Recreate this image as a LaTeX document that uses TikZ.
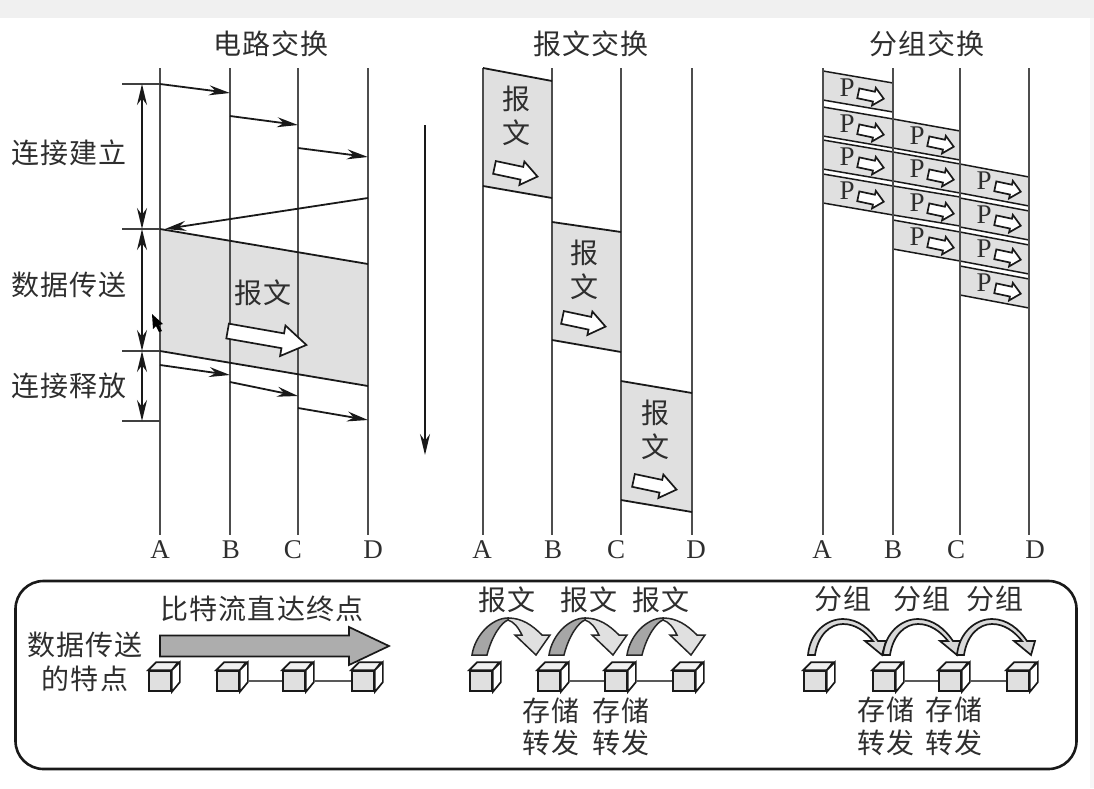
\documentclass[tikz,border=0pt]{standalone}
\usepackage{fontspec}
\setmainfont{Liberation Serif}
\newfontfamily\cjk[LetterSpace=4]{Noto Sans CJK SC}
\usetikzlibrary{positioning, arrows.meta}
\definecolor{ink}{HTML}{2E2E2E}
\definecolor{pale}{HTML}{E0E0E0}
\tikzstyle{every node}=[text=ink]
\tikzstyle{hanzi}=[font=\cjk\fontsize{28}{33}\selectfont,inner sep=0pt]
\tikzstyle{letter}=[font=\fontsize{27}{32}\selectfont,inner sep=0pt]
\tikzstyle{lifeline}=[draw=ink!85,line width=1.6pt]
\tikzstyle{signal}=[draw=black!90,line width=1.8pt]
\tikzstyle{span}=[draw=black!90,line width=1.8pt,<->]
\tikzstyle{tick}=[draw=black!75,line width=1.5pt]
\tikzstyle{sheet}=[fill=pale]
\tikzstyle{hollow}=[draw=black!90,fill=white,line width=1.7pt,line join=miter]
\tikzstyle{face}=[draw=black!90,fill=pale,line width=1.7pt,minimum width=22pt,minimum height=20pt,inner sep=0pt]
\tikzstyle{link}=[draw=black!65,line width=1.5pt]
\newcommand{\cube}[3]{
            \node[face] (#1) at (#2+11,#3) {};
            \draw[draw=black!90,fill=black!6,line width=1.7pt] (#1.north west) -- ++(8,-8) -- ++(22,0) -- (#1.north east) -- cycle;
            \draw[draw=black!90,fill=white,line width=1.7pt] (#1.north east) -- ++(8,-8) -- ++(0,20) -- (#1.south east) -- cycle;
}
\newcommand{\blockarrow}[7]{
            \begin{scope}[shift={(#1,#2)},rotate=#3]
            \draw[hollow] (-#4/2,-#6/2) -- (#4/2-#7,-#6/2) -- (#4/2-#7,-#5/2) -- (#4/2,0) -- (#4/2-#7,#5/2) -- (#4/2-#7,#6/2) -- (-#4/2,#6/2) -- cycle;
            \end{scope}
}
\newcommand{\packet}[4]{
            \fill[sheet] (#1,#3) -- (#2,#4) -- (#2,#4+29) -- (#1,#3+29) -- cycle;
            \draw[signal,line width=1.5pt] (#1,#3) -- (#2,#4);
            \draw[signal,line width=1.5pt] (#1,#3+29) -- (#2,#4+29);
            \node[letter] at (#1+24,#3+17) {P};
            \blockarrow{#1+48}{#3+25}{-12}{26}{18}{10}{10}
}
\newcommand{\hop}[1]{
            \draw[draw=black!85,fill=black!12,line width=1.5pt] (#1+36,618) .. controls (#1+50,618) and (#1+60,625) .. (#1+70,635) -- (#1+78,635) -- (#1+64,655) -- (#1+43,635) -- (#1+50,635) .. controls (#1+46,627) and (#1+42,622) .. (#1+36,620) -- cycle;
            \draw[draw=black!85,fill=black!35,line width=1.5pt] (#1,655) .. controls (#1+3,635) and (#1+20,618) .. (#1+36,618) -- (#1+36,620) .. controls (#1+30,622) and (#1+20,635) .. (#1+15,655) -- cycle;
}
\newcommand{\jump}[1]{
            \draw[draw=black!90,fill=black!15,line width=1.7pt] (#1,655) .. controls (#1+2,633) and (#1+18,619) .. (#1+35,619) .. controls (#1+50,619) and (#1+62,629) .. (#1+70,641) -- (#1+78,641) -- (#1+74,655) -- (#1+57,641) -- (#1+65,641) .. controls (#1+57,631) and (#1+47,624) .. (#1+35,624) .. controls (#1+22,624) and (#1+10,635) .. (#1+7,655) -- cycle;
}

\begin{document}
\begin{tikzpicture}[x=1pt,y=-1pt,>={Stealth[length=21pt,width=10pt]}]
            \useasboundingbox (0,0) rectangle (1094,788);
            \fill[black!6] (0,0) rectangle (1094,18);
            \fill[black!3] (1090,18) rectangle (1094,788);

            \node[hanzi] (circuit) at (271,44) {电路交换};
            \node[hanzi] (message) at (591,44) {报文交换};
            \node[hanzi] (packet) at (927,44) {分组交换};

            \fill[sheet] (160,229) -- (368,264) -- (368,386) -- (160,351) -- cycle;
            \fill[sheet] (483,68) -- (552,81) -- (552,198) -- (483,186) -- cycle;
            \fill[sheet] (552,222) -- (621,232) -- (621,352) -- (552,340) -- cycle;
            \fill[sheet] (621,381) -- (692,393) -- (692,512) -- (621,500) -- cycle;
            \packet{823}{893}{71}{83}
            \packet{823}{893}{107}{119}
            \packet{823}{893}{140}{152}
            \packet{823}{893}{174}{186}
            \packet{893}{960}{119}{131}
            \packet{893}{960}{152}{164}
            \packet{893}{960}{186}{197}
            \packet{893}{960}{220}{232}
            \packet{960}{1029}{164}{177}
            \packet{960}{1029}{198}{211}
            \packet{960}{1029}{232}{245}
            \packet{960}{1029}{266}{279}

            \coordinate (Atop) at (160,68);
            \coordinate (Btop) at (230,68);
            \coordinate (Ctop) at (298,68);
            \coordinate (Dtop) at (368,68);
            \coordinate (Abot) at (160,535);
            \coordinate (Bbot) at (230,535);
            \coordinate (Cbot) at (298,535);
            \coordinate (Dbot) at (368,535);
            \draw[lifeline] (Atop) -- (Abot);
            \draw[lifeline] (Btop) -- (Bbot);
            \draw[lifeline] (Ctop) -- (Cbot);
            \draw[lifeline] (Dtop) -- (Dbot);
            \node[letter] (A1) at (160,550) {A};
            \node[letter] (B1) at (231,550) {B};
            \node[letter] (C1) at (293,550) {C};
            \node[letter] (D1) at (373,550) {D};

            \coordinate (Ptop) at (483,68);
            \coordinate (Qtop) at (552,68);
            \coordinate (Rtop) at (621,68);
            \coordinate (Stop) at (692,68);
            \coordinate (Pbot) at (483,535);
            \coordinate (Qbot) at (552,535);
            \coordinate (Rbot) at (621,535);
            \coordinate (Sbot) at (692,535);
            \draw[lifeline] (Ptop) -- (Pbot);
            \draw[lifeline] (Qtop) -- (Qbot);
            \draw[lifeline] (Rtop) -- (Rbot);
            \draw[lifeline] (Stop) -- (Sbot);
            \node[letter] (A2) at (482,550) {A};
            \node[letter] (B2) at (553,550) {B};
            \node[letter] (C2) at (616,550) {C};
            \node[letter] (D2) at (696,550) {D};

            \coordinate (Utop) at (823,68);
            \coordinate (Vtop) at (893,68);
            \coordinate (Wtop) at (960,68);
            \coordinate (Xtop) at (1029,68);
            \coordinate (Ubot) at (823,535);
            \coordinate (Vbot) at (893,535);
            \coordinate (Wbot) at (960,535);
            \coordinate (Xbot) at (1029,535);
            \draw[lifeline] (Utop) -- (Ubot);
            \draw[lifeline] (Vtop) -- (Vbot);
            \draw[lifeline] (Wtop) -- (Wbot);
            \draw[lifeline] (Xtop) -- (Xbot);
            \node[letter] (A3) at (822,550) {A};
            \node[letter] (B3) at (893,550) {B};
            \node[letter] (C3) at (956,550) {C};
            \node[letter] (D3) at (1035,550) {D};

            \coordinate (t1) at (122,84);
            \coordinate (t2) at (122,229);
            \coordinate (t3) at (122,351);
            \coordinate (t4) at (122,421);
            \coordinate (a1) at (160,84);
            \coordinate (a2) at (160,229);
            \coordinate (a3) at (160,351);
            \coordinate (a4) at (160,421);
            \draw[tick] (t1) -- (a1);
            \draw[tick] (t2) -- (a2);
            \draw[tick] (t3) -- (a3);
            \draw[tick] (t4) -- (a4);
            \coordinate (s1) at (142,84);
            \coordinate (s2) at (142,229);
            \coordinate (s3) at (142,351);
            \coordinate (s4) at (142,421);
            \draw[span] (s1) -- (s2);
            \draw[span] (s2) -- (s3);
            \draw[span] (s3) -- (s4);
            \node[hanzi] (setup) at (69,153) {连接建立};
            \node[hanzi] (transfer) at (69,285) {数据传送};
            \node[hanzi] (release) at (69,386) {连接释放};

            \coordinate (b1) at (230,93);
            \coordinate (b2) at (230,116);
            \coordinate (c1) at (298,125);
            \coordinate (c2) at (298,148);
            \coordinate (d1) at (368,157);
            \coordinate (d2) at (368,198);
            \coordinate (a0) at (165,229);
            \draw[signal,->] (a1) -- (b1);
            \draw[signal,->] (b2) -- (c1);
            \draw[signal,->] (c2) -- (d1);
            \draw[signal,->] (d2) -- (a0);
            \coordinate (e0) at (368,264);
            \coordinate (f0) at (368,386);
            \draw[signal] (a2) -- (e0);
            \draw[signal] (a3) -- (f0);
            \coordinate (a5) at (160,365);
            \coordinate (b5) at (230,375);
            \coordinate (b6) at (230,382);
            \coordinate (c6) at (298,396);
            \coordinate (c7) at (298,408);
            \coordinate (d7) at (368,420);
            \draw[signal,->] (a5) -- (b5);
            \draw[signal,->] (b6) -- (c6);
            \draw[signal,->] (c7) -- (d7);

            \node[hanzi] (msg) at (263,293) {报文};
            \blockarrow{267}{338}{-10}{80}{31}{15}{24}
            \fill[black] (152,314) -- (153,329) -- (156,326) -- (159,332) -- (162,331) -- (159,325) -- (163,324) -- cycle;

            \coordinate (timeup) at (425,125);
            \coordinate (timedown) at (425,455);
            \draw[signal,line width=2pt,->] (timeup) -- (timedown);

            \draw[signal] (483,68) -- (552,81);
            \draw[signal] (483,186) -- (552,198);
            \draw[signal] (552,222) -- (621,232);
            \draw[signal] (552,340) -- (621,352);
            \draw[signal] (621,381) -- (692,393);
            \draw[signal] (621,500) -- (692,512);
            \node[hanzi] (bao1) at (516,99) {报};
            \node[hanzi] (wen1) at (516,133) {文};
            \node[hanzi] (bao2) at (584,253) {报};
            \node[hanzi] (wen2) at (584,287) {文};
            \node[hanzi] (bao3) at (655,413) {报};
            \node[hanzi] (wen3) at (655,447) {文};
            \blockarrow{516}{172}{-12}{44}{24}{13}{16}
            \blockarrow{584}{322}{-12}{44}{24}{13}{16}
            \blockarrow{655}{485}{-12}{44}{24}{13}{16}

            \node[draw=black!90,line width=2.6pt,rounded corners=28pt,minimum width=1061pt,minimum height=188pt,inner sep=0pt] (frame) at (546,675) {};
            \node[hanzi] (feature1) at (85,645) {数据传送};
            \node[hanzi] (feature2) at (85,679) {的特点};
            \node[hanzi] (direct) at (262,609) {比特流直达终点};
            \begin{scope}[hollow/.append style={fill=black!32}]
            \blockarrow{274.5}{646}{0}{229}{38}{21}{40}
            \end{scope}

            \cube{n1}{149}{681}
            \cube{n2}{217}{681}
            \cube{n3}{283}{681}
            \cube{n4}{352}{681}
            \draw[link] ([xshift=8pt]n2.east) -- (n3);
            \draw[link] ([xshift=8pt]n3.east) -- (n4);

            \cube{o1}{470}{681}
            \cube{o2}{538}{681}
            \cube{o3}{605}{681}
            \cube{o4}{673}{681}
            \draw[link] ([xshift=8pt]o2.east) -- (o3);
            \draw[link] ([xshift=8pt]o3.east) -- (o4);

            \cube{q1}{804}{681}
            \cube{q2}{873}{681}
            \cube{q3}{939}{681}
            \cube{q4}{1007}{681}
            \draw[link] ([xshift=8pt]q2.east) -- (q3);
            \draw[link] ([xshift=8pt]q3.east) -- (q4);

            \hop{472}
            \hop{549}
            \hop{627}
            \jump{808}
            \jump{883}
            \jump{957}

            \node[hanzi] (h1) at (507,600) {报文};
            \node[hanzi] (h2) at (589,600) {报文};
            \node[hanzi] (h3) at (661,600) {报文};
            \node[hanzi] (g1) at (843,599) {分组};
            \node[hanzi] (g2) at (922,599) {分组};
            \node[hanzi] (g3) at (995,599) {分组};
            \node[hanzi] (store1) at (551,711) {存储};
            \node[hanzi] (store2) at (621,711) {存储};
            \node[hanzi] (fwd1) at (551,743) {转发};
            \node[hanzi] (fwd2) at (621,743) {转发};
            \node[hanzi] (store3) at (886,710) {存储};
            \node[hanzi] (store4) at (954,710) {存储};
            \node[hanzi] (fwd3) at (886,743) {转发};
            \node[hanzi] (fwd4) at (954,743) {转发};
        \end{tikzpicture}
\end{document}
